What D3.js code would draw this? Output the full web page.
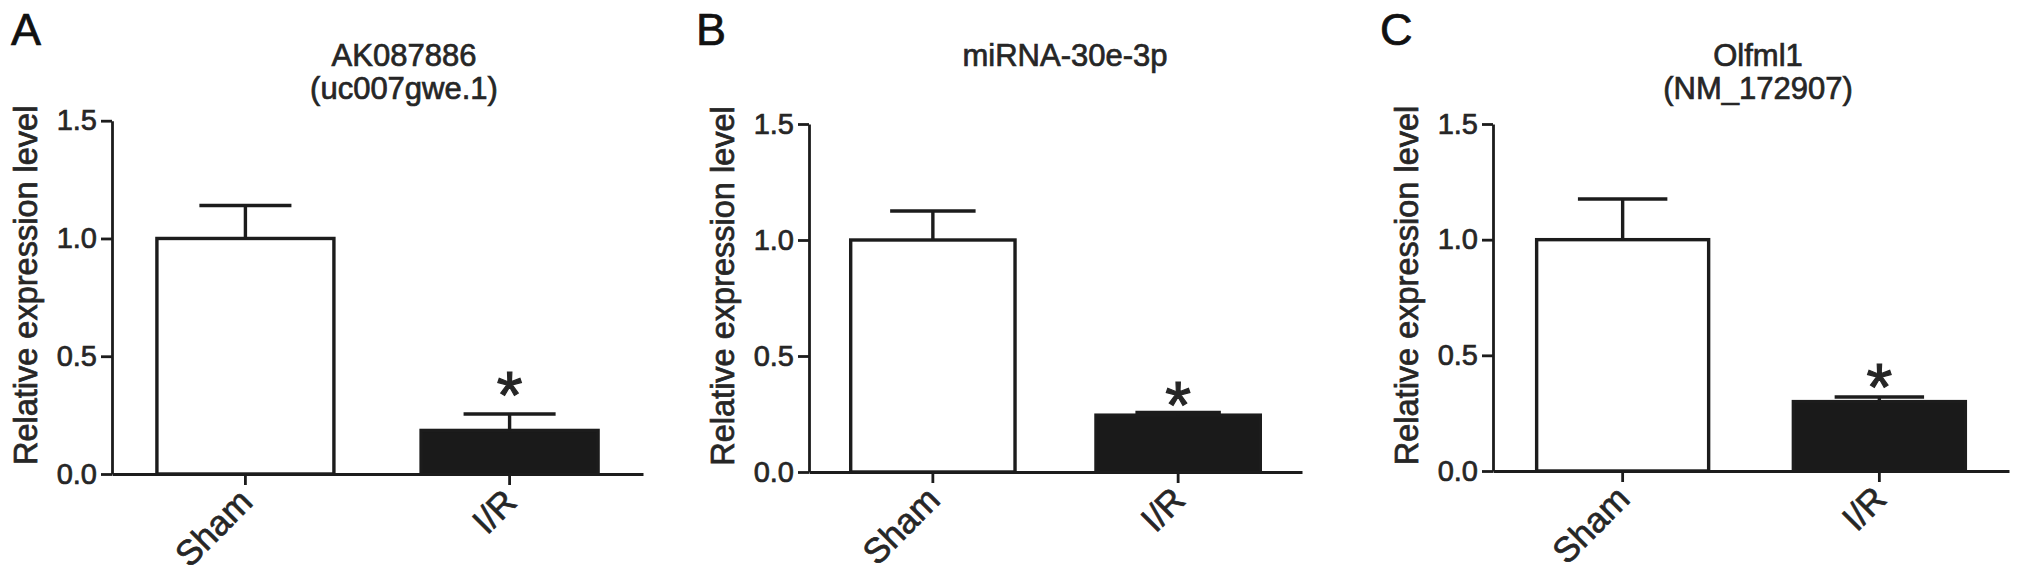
<!DOCTYPE html>
<html>
<head>
<meta charset="utf-8">
<script src="https://cdn.jsdelivr.net/npm/d3@7"></script>
<style>
  html, body { margin: 0; padding: 0; background: #ffffff; }
  svg { display: block; }
  text { font-family: "Liberation Sans", Arial, sans-serif; fill: #262626; stroke: #262626; stroke-width: 0.7px; }
</style>
</head>
<body>
<script>
// ---------------- data ----------------
const panelLetters = ["A", "B", "C"];
const panelTitles = [["AK087886", "(uc007gwe.1)"], ["miRNA-30e-3p"], ["Olfml1", "(NM_172907)"]];
const categories = ["Sham", "I/R"];
const meansA = [1.0, 0.185];
const semA = [0.14, 0.07];
const meansB = [1.0, 0.245];
const semB = [0.125, 0.012];
const meansC = [1.0, 0.30];
const semC = [0.176, 0.02];
const starLevel = [0.40, 0.355, 0.43];   // where the "*" sits above I/R
const yTicks = [0.0, 0.5, 1.0, 1.5];
const yLabel = "Relative expression level";

const series = [
  { means: meansA, sem: semA },
  { means: meansB, sem: semB },
  { means: meansC, sem: semC }
];

// ---------------- layout ----------------
const W = 2031, H = 580;
const layout = [
  { x0: 112, x1: 643, y0: 474, yTop: 120.7, titleX: 404, letterX: 11 },
  { x0: 809, x1: 1302, y0: 472, yTop: 124, titleX: 1065, letterX: 696 },
  { x0: 1493, x1: 2009, y0: 471, yTop: 124, titleX: 1758, letterX: 1380 }
];
const ink = "#1c1c1c";
const fillDark = "#1a1a1a";

const svg = d3.select("body").append("svg").attr("width", W).attr("height", H);

layout.forEach((L, i) => {
  const g = svg.append("g");
  const data = categories.map((c, k) => ({ cat: c, mean: series[i].means[k], sem: series[i].sem[k] }));

  const x = d3.scaleBand().domain(categories).range([L.x0, L.x1])
    .paddingInner(0.33).paddingOuter(0.17);
  const y = d3.scaleLinear().domain([0, 1.5]).range([L.y0, L.yTop]);
  const bw = x.bandwidth();

  // bars
  g.selectAll("rect.bar").data(data).enter().append("rect")
    .attr("class", "bar")
    .attr("x", d => x(d.cat))
    .attr("y", d => y(d.mean))
    .attr("width", bw)
    .attr("height", d => y(0) - y(d.mean))
    .attr("fill", (d, k) => k === 0 ? "#ffffff" : fillDark)
    .attr("stroke", ink)
    .attr("stroke-width", 3.4);

  // error bars (upper)
  const capW = bw * 0.52;
  g.selectAll("line.err").data(data).enter().append("line")
    .attr("class", "err")
    .attr("x1", d => x(d.cat) + bw / 2)
    .attr("x2", d => x(d.cat) + bw / 2)
    .attr("y1", d => y(d.mean))
    .attr("y2", d => y(d.mean + d.sem))
    .attr("stroke", ink).attr("stroke-width", 3.4);
  g.selectAll("line.cap").data(data).enter().append("line")
    .attr("class", "cap")
    .attr("x1", d => x(d.cat) + bw / 2 - capW / 2)
    .attr("x2", d => x(d.cat) + bw / 2 + capW / 2)
    .attr("y1", d => y(d.mean + d.sem))
    .attr("y2", d => y(d.mean + d.sem))
    .attr("stroke", ink).attr("stroke-width", 3.4);

  // significance star
  g.append("text")
    .attr("x", x(categories[1]) + bw / 2)
    .attr("y", y(starLevel[i]) + 38)
    .attr("text-anchor", "middle")
    .style("font-size", "66px")
    .style("stroke-width", "1.2px")
    .text("*");

  // y axis
  const ya = g.append("g").attr("transform", `translate(${L.x0},0)`)
    .call(d3.axisLeft(y).tickValues(yTicks).tickFormat(d3.format(".1f"))
      .tickSize(11).tickSizeOuter(0).tickPadding(4));
  ya.attr("font-family", null).attr("font-size", null);
  ya.selectAll("path, line").attr("stroke", ink).attr("stroke-width", 2.8);
  ya.selectAll("text").style("font-size", "29px").attr("fill", null);

  // x axis
  const xa = g.append("g").attr("transform", `translate(0,${L.y0})`)
    .call(d3.axisBottom(x).tickSize(11).tickSizeOuter(0));
  xa.attr("font-family", null).attr("font-size", null);
  xa.selectAll("path, line").attr("stroke", ink).attr("stroke-width", 2.8);
  xa.selectAll("text")
    .attr("x", 0).attr("y", 0).attr("dy", null).attr("fill", null)
    .attr("transform", "translate(9,30) rotate(-45)")
    .style("text-anchor", "end")
    .style("font-size", "35px");

  // y label
  g.append("text")
    .attr("transform", `translate(${L.x0 - 75},${(L.y0 + L.yTop) / 2 - 12}) rotate(-90)`)
    .attr("text-anchor", "middle")
    .style("font-size", "32.5px")
    .text(yLabel);

  // title
  panelTitles[i].forEach((t, k) => {
    g.append("text")
      .attr("x", L.titleX).attr("y", 66 + k * 33)
      .attr("text-anchor", "middle")
      .style("font-size", "31px")
      .text(t);
  });

  // panel letter
  g.append("text")
    .attr("x", L.letterX).attr("y", 45)
    .style("font-size", "45px")
    .style("fill", "#111").style("stroke", "#111")
    .text(panelLetters[i]);
});
</script>
</body>
</html>
